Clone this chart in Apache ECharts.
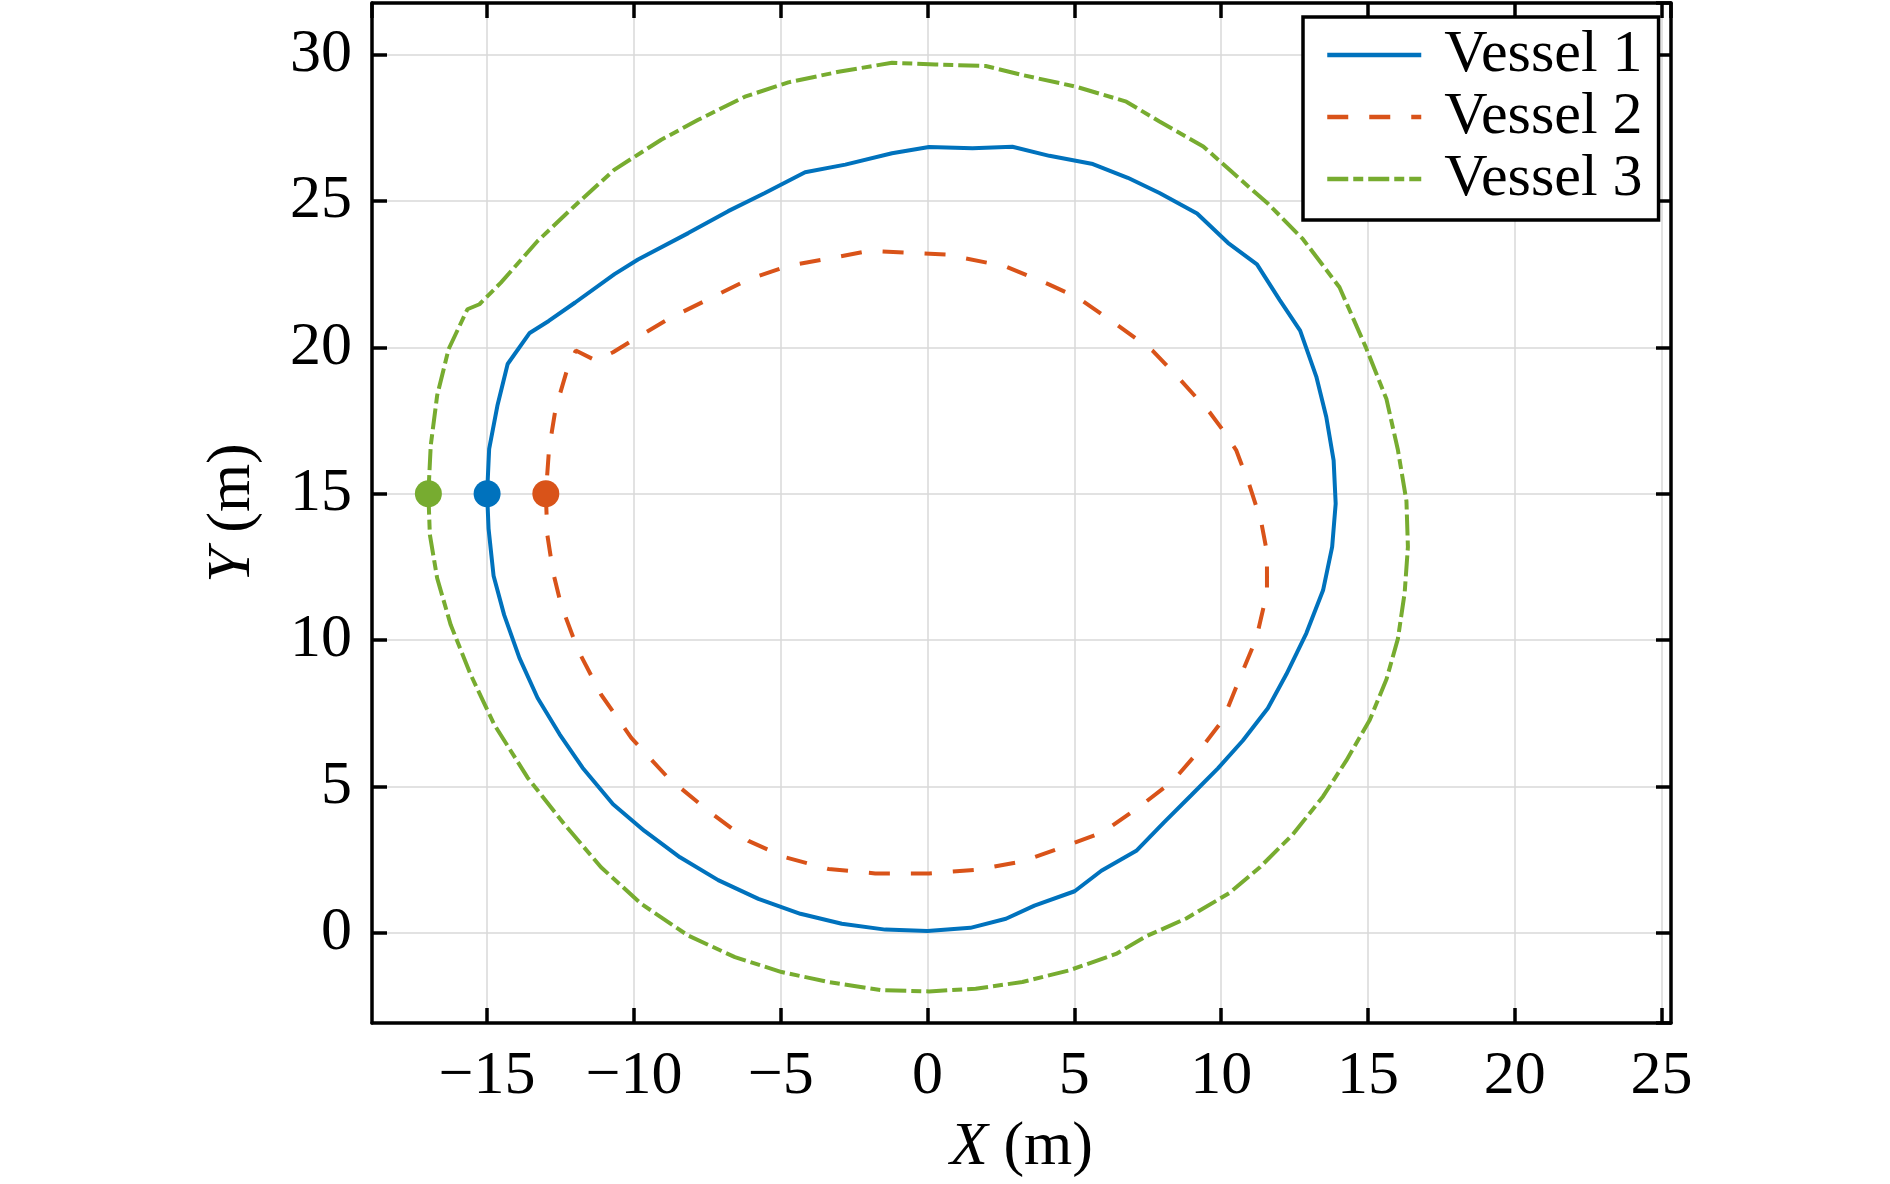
<!DOCTYPE html>
<html>
<head>
<meta charset="utf-8">
<title>Vessel trajectories</title>
<script src="https://cdn.jsdelivr.net/npm/echarts@6/dist/echarts.min.js"></script>
<style>
  html, body { margin: 0; padding: 0; background: #fff; }
  #chart { width: 1890px; height: 1184px; }
</style>
</head>
<body>
<div id="chart"></div>
<script>
"use strict";

/* ── 数据 ── */
const SERIES_NAMES = ["Vessel 1", "Vessel 2", "Vessel 3"];

const V1_X = [-15.0, -14.95, -14.78, -14.42, -13.9, -13.28, -12.53, -11.75, -10.71, -9.64, -8.43, -7.13, -5.76, -4.33, -2.92, -1.44, 0, 1.46, 2.67, 3.64, 5.01, 5.92, 7.11, 8.07, 8.98, 9.89, 10.74, 11.59, 12.22, 12.9, 13.47, 13.78, 13.9, 13.83, 13.58, 13.24, 12.69, 11.99, 11.22, 10.23, 9.18, 7.9, 6.82, 5.63, 4.15, 2.89, 1.53, 0.05, -1.21, -2.8, -4.17, -5.54, -6.79, -8.15, -9.86, -10.66, -12.0, -12.9, -13.55, -14.3, -14.65, -14.93, -15.0];
const V1_Y = [15.0, 13.8, 12.2, 10.86, 9.39, 8.02, 6.78, 5.64, 4.39, 3.48, 2.58, 1.8, 1.16, 0.65, 0.31, 0.11, 0.06, 0.17, 0.48, 0.93, 1.42, 2.12, 2.8, 3.79, 4.7, 5.62, 6.57, 7.67, 8.83, 10.23, 11.7, 13.18, 14.66, 16.14, 17.62, 19.0, 20.57, 21.62, 22.83, 23.57, 24.57, 25.27, 25.79, 26.26, 26.54, 26.85, 26.8, 26.84, 26.63, 26.24, 25.98, 25.27, 24.65, 23.9, 23.0, 22.5, 21.53, 20.9, 20.49, 19.43, 18.0, 16.53, 15.0];

const V2_X = [-13.0, -12.95, -12.75, -12.48, -11.91, -11.12, -10.09, -8.84, -7.47, -6.1, -4.85, -3.37, -1.78, 0.05, 1.64, 3.23, 4.6, 5.97, 7.22, 8.35, 9.26, 10.06, 10.64, 11.2, 11.56, 11.56, 11.36, 10.97, 10.51, 10.11, 9.6, 8.58, 7.67, 6.48, 5.11, 4.15, 2.67, 0.62, -0.64, -2.0, -3.37, -4.74, -6.1, -7.47, -8.84, -9.98, -10.71, -11.3, -11.98, -12.3, -12.67, -12.89, -13.0];
const V2_Y = [15.0, 13.6, 12.3, 11.2, 9.67, 8.14, 6.66, 5.3, 4.17, 3.14, 2.58, 2.18, 2.03, 2.03, 2.15, 2.44, 2.92, 3.44, 4.31, 5.18, 6.23, 7.27, 8.71, 10.07, 11.62, 13.0, 14.05, 15.27, 16.49, 17.1, 17.79, 18.92, 19.88, 20.75, 21.7, 22.14, 22.76, 23.17, 23.23, 23.29, 23.03, 22.78, 22.32, 21.64, 20.96, 20.28, 19.83, 19.55, 19.89, 19.15, 17.89, 16.53, 15.0];

const V3_X = [-17.0, -16.95, -16.7, -16.24, -15.56, -14.76, -13.62, -12.37, -11.12, -9.75, -8.16, -6.56, -4.97, -3.37, -1.55, 0.05, 1.64, 3.23, 4.83, 6.42, 7.44, 8.81, 10.28, 11.31, 12.44, 13.47, 14.26, 15.06, 15.63, 16.02, 16.25, 16.36, 16.31, 16.02, 15.63, 14.94, 14.03, 12.78, 11.6, 10.41, 9.39, 7.9, 6.77, 5.06, 3.23, 1.98, 0.27, -1.21, -3.03, -4.74, -6.22, -7.81, -9.07, -10.66, -12.03, -13.28, -14.53, -15.26, -15.67, -16.31, -16.7, -16.92, -17.0];
const V3_Y = [15.0, 13.6, 12.11, 10.52, 8.82, 7.12, 5.3, 3.71, 2.24, 0.99, -0.09, -0.83, -1.34, -1.68, -1.96, -2.0, -1.91, -1.68, -1.28, -0.72, -0.12, 0.49, 1.36, 2.23, 3.36, 4.66, 5.88, 7.27, 8.66, 10.05, 11.62, 13.18, 14.75, 16.49, 18.23, 19.97, 22.05, 23.7, 24.9, 25.95, 26.86, 27.71, 28.39, 28.9, 29.3, 29.61, 29.66, 29.72, 29.41, 29.05, 28.56, 27.77, 27.09, 26.07, 24.82, 23.63, 22.21, 21.47, 21.3, 19.94, 18.36, 16.64, 15.0];

// 起点
const START_X = [-15, -13, -17];
const START_Y = [15, 15, 15];

const COLORS = ["#0072BD", "#D95319", "#77AC30"];
const FONT = "'Liberation Serif', 'Times New Roman', serif";

document.addEventListener("DOMContentLoaded", () => {
  renderChart();
});

function pairs(xs, ys) {
  return xs.map((x, i) => [x, ys[i]]);
}

function fmtTick(v) {
  if (Math.abs(v - Math.round(v / 5) * 5) > 1e-6) return "";
  return v < 0 ? "\u2212" + Math.abs(v) : String(v);
}

function renderChart() {
  const dom = document.getElementById("chart");
  const chart = echarts.init(dom, null, { renderer: "canvas" });

  const axisLine = { show: true, onZero: false, lineStyle: { color: "#000", width: 3.5 } };
  const axisTick = { show: true, inside: true, length: 15, lineStyle: { color: "#000", width: 3.5 } };
  const gridLine = { show: true, lineStyle: { color: "#d9d9d9", width: 1.5 } };
  const labelStyle = { fontFamily: FONT, fontSize: 62, color: "#000" };

  const xRange = { min: -18.92, max: 25.32, splitNumber: 9 };
  const yRange = { min: -3.08, max: 31.76, splitNumber: 7 };

  const lineTypes = ["solid", [21, 21], [21, 5, 10, 5]];
  const datasets = [pairs(V1_X, V1_Y), pairs(V2_X, V2_Y), pairs(V3_X, V3_Y)];

  const lines = SERIES_NAMES.map((name, i) => ({
    name, type: "line", data: datasets[i],
    symbol: "none", showSymbol: false, smooth: false,
    lineStyle: { color: COLORS[i], width: 4, type: lineTypes[i] },
    itemStyle: { color: COLORS[i] },
    z: 3
  }));

  const starts = {
    type: "scatter", symbol: "circle", symbolSize: 27,
    data: START_X.map((x, i) => ({ value: [x, START_Y[i]], itemStyle: { color: COLORS[i], opacity: 1 } })),
    itemStyle: { opacity: 1 },
    z: 4
  };

  chart.setOption({
    animation: false,
    backgroundColor: "#fff",
    grid: { left: 372, right: 219, top: 3, bottom: 158, containLabel: false },
    legend: {
      data: SERIES_NAMES,
      orient: "vertical",
      left: 1303, top: 17,
      itemWidth: 94, itemHeight: 20, itemGap: 0,
      padding: [7, 16, 10, 22],
      borderColor: "#000", borderWidth: 3.5,
      backgroundColor: "#fff",
      itemStyle: { opacity: 0, color: "rgba(0,0,0,0)", borderWidth: 0 },
      lineStyle: { width: 4.5 },
      textStyle: { fontFamily: FONT, fontSize: 60, color: "#000", lineHeight: 62, padding: [0, 0, 0, 18] }
    },
    xAxis: [
      {
        type: "value", position: "bottom", ...xRange,
        axisLine, axisTick, splitLine: gridLine,
        axisLabel: { ...labelStyle, margin: 23, showMinLabel: false, showMaxLabel: false, formatter: fmtTick },
        name: "{i|X} (m)", nameLocation: "middle", nameGap: 94,
        nameTextStyle: { ...labelStyle, rich: { i: { ...labelStyle, fontStyle: "italic" } } }
      },
      {
        type: "value", position: "top", ...xRange,
        axisLine, axisTick, splitLine: { show: false }, axisLabel: { show: false }
      }
    ],
    yAxis: [
      {
        type: "value", position: "left", ...yRange,
        axisLine, axisTick, splitLine: gridLine,
        axisLabel: { ...labelStyle, margin: 20, showMinLabel: false, showMaxLabel: false, formatter: fmtTick },
        name: "{i|Y} (m)", nameLocation: "middle", nameGap: 108,
        nameTextStyle: { ...labelStyle, rich: { i: { ...labelStyle, fontStyle: "italic" } } }
      },
      {
        type: "value", position: "right", ...yRange,
        axisLine, axisTick, splitLine: { show: false }, axisLabel: { show: false }
      }
    ],
    series: [...lines, starts]
  });
  window.addEventListener("resize", () => chart.resize());
}
</script>
</body>
</html>
